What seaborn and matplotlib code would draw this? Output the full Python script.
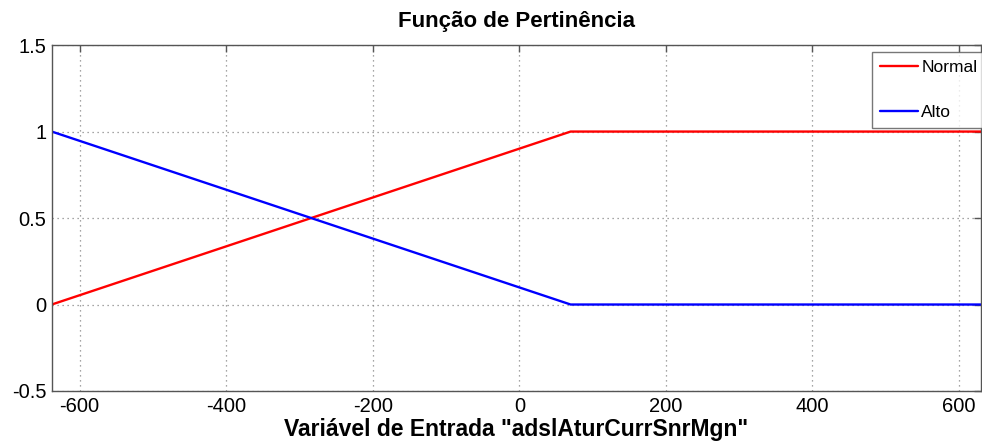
import pandas as pd
import matplotlib
matplotlib.use("Agg")
import matplotlib.pyplot as plt
import seaborn as sns

# breakpoints of the membership functions
x_pts = [-638, 70, 630]
normal = [0, 1, 1]
alto = [1, 0, 0]
labels = ["Normal", "Alto"]
colors = {"Normal": "#ff0000", "Alto": "#0000ff"}

xticks = [-600, -400, -200, 0, 200, 400, 600]
yticks = [-0.5, 0, 0.5, 1, 1.5]
ytick_labels = ["-0.5", "0", "0.5", "1", "1.5"]

df = pd.concat([
    pd.DataFrame({"x": x_pts, "y": normal, "f": "Normal"}),
    pd.DataFrame({"x": x_pts, "y": alto, "f": "Alto"}),
])

sns.set_style("white")
plt.rcParams["font.family"] = ["Liberation Sans", "DejaVu Sans"]
plt.rcParams["axes.unicode_minus"] = False
plt.rcParams["text.color"] = "black"
plt.rcParams["axes.labelcolor"] = "black"

fig = plt.figure(figsize=(9.82, 4.42), dpi=100)
ax = fig.add_axes([0.0527, 0.1154, 0.9463, 0.7826])

sns.lineplot(data=df, x="x", y="y", hue="f", hue_order=labels,
             palette=colors, linewidth=1.7, ax=ax, legend=False)

ax.set_xlim(-638, 630)
ax.set_ylim(-0.5, 1.5)
ax.set_xticks(xticks)
ax.set_xticklabels([str(t) for t in xticks])
ax.set_yticks(yticks)
ax.set_yticklabels(ytick_labels)
ax.grid(True, linestyle=(0, (1, 3)), color="#888888", linewidth=0.9)
ax.tick_params(direction="in", length=5, width=1, color="#555555",
               labelcolor="black", labelsize=14.5, top=True, right=True, pad=4)
for s in ax.spines.values():
    s.set_color("#555555")
    s.set_linewidth(1)

ax.set_title("Função de Pertinência", fontsize=16, fontweight="bold", pad=13,
             color="black")
ax.set_xlabel('Variável de Entrada "adslAturCurrSnrMgn"', fontsize=16.5,
              fontweight="bold", labelpad=2, color="black")
ax.set_ylabel("")

handles = [plt.Line2D([], [], color=colors[l], linewidth=1.7) for l in labels]
leg = ax.legend(handles, labels, loc="upper left",
                bbox_to_anchor=(0.8877, 0.883), bbox_transform=fig.transFigure,
                fontsize=12.5, frameon=True, fancybox=False, labelspacing=1.75,
                handlelength=2.2, handletextpad=0.2, borderpad=0.45,
                borderaxespad=0, labelcolor="black")
leg.get_frame().set_edgecolor("#555555")
leg.get_frame().set_linewidth(1)

fig.savefig("out.png", dpi=100)
